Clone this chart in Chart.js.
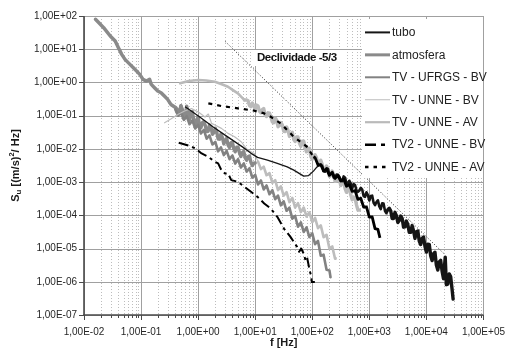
<!DOCTYPE html>
<html><head><meta charset="utf-8">
<script src="https://cdn.jsdelivr.net/npm/chart.js@4.4.1/dist/chart.umd.min.js"></script>
<style>html,body{margin:0;padding:0;background:#fff;}canvas{display:block;}</style>
</head><body>
<canvas id="c" width="516" height="357"></canvas>
<script>
// ---------- DATA ----------
const seriesNames = ['tubo','atmosfera','TV - UFRGS - BV','TV - UNNE - BV','TV - UNNE - AV','TV2 - UNNE - BV','TV2 - UNNE - AV'];
const xTickValues = [1e-2,1e-1,1e0,1e1,1e2,1e3,1e4,1e5];
const xTickLabels = ['1,00E-02','1,00E-01','1,00E+00','1,00E+01','1,00E+02','1,00E+03','1,00E+04','1,00E+05'];
const yTickValues = [1e-7,1e-6,1e-5,1e-4,1e-3,1e-2,1e-1,1e0,1e1,1e2];
const yTickLabels = ['1,00E-07','1,00E-06','1,00E-05','1,00E-04','1,00E-03','1,00E-02','1,00E-01','1,00E+00','1,00E+01','1,00E+02'];
const xTitle = 'f [Hz]';
const slopeLabel = 'Declividade -5/3';

const tuboF = [0.60,1.01,1.84,3.34,6.07,8.34,11.0,16.4,24.4,36.4,47.5,70.7,86.2,105,120,
  141,150,158,168,178,188,200,211,224,237,251,266,282,299,316,335,355,376,398,422,
  447,473,501,531,562,596,631,668,708,750,794,841,891,944,1000,1059,1122,1189,1259,1334,
  1413,1496,1585,1679,1778,1884,1995,2113,2239,2371,2512,2661,2818,2985,3162,3350,3548,3758,3981,4217,
  4467,4732,5012,5309,5623,5957,6310,6683,7079,7499,7943,8414,8913,9441,10000,10590,11220,11890,12590,13340,
  14130,14960,15850,16790,17780,18840,19950,21380,22390,23710,25120,26610,28180,29400];
const tuboS = [0.182,0.0973,0.0454,0.0226,0.0113,0.00747,0.00555,0.0046,0.00366,0.00289,0.0023,0.00152,0.00157,0.00214,0.00283,
  3.34e-3,3.00e-3,2.14e-3,2.06e-3,2.61e-3,2.51e-3,1.67e-3,1.75e-3,2.00e-3,1.38e-3,1.30e-3,1.68e-3,1.65e-3,1.43e-3,1.12e-3,1.07e-3,1.48e-3,1.36e-3,9.12e-4,9.14e-4,
  1.10e-3,9.06e-4,6.50e-4,8.78e-4,8.20e-4,5.62e-4,5.08e-4,5.58e-4,6.75e-4,5.96e-4,3.81e-4,3.61e-4,4.94e-4,4.07e-4,2.80e-4,3.80e-4,3.91e-4,2.39e-4,2.03e-4,2.51e-4,
  2.83e-4,1.86e-4,1.54e-4,2.29e-4,2.25e-4,1.35e-4,1.16e-4,1.47e-4,1.63e-4,1.37e-4,8.04e-5,8.07e-5,1.23e-4,9.69e-5,6.08e-5,6.94e-5,9.53e-5,8.15e-5,4.40e-5,4.52e-5,
  6.73e-5,5.22e-5,3.08e-5,3.08e-5,4.91e-5,3.45e-5,2.02e-5,3.21e-5,3.37e-5,1.68e-5,1.32e-5,2.01e-5,2.23e-5,1.17e-5,7.80e-6,1.35e-5,1.34e-5,6.05e-6,4.36e-6,6.97e-6,
  7.71e-6,3.17e-6,2.26e-6,3.98e-6,4.42e-6,2.09e-6,1.24e-6,5.5e-6,8.18e-7,8.5e-7,1.73e-6,1.44e-6,6.0e-7,3.0e-7];

const atmF = [0.0159,0.0221,0.0288,0.0352,0.0401,0.0458,0.0523,0.0638,0.0778,0.0949,0.108,0.124,0.141,0.151,0.172,0.196,0.224,0.256,0.292,0.333,0.407,0.464,
  0.50,0.531,0.562,0.596,0.631,0.668,0.708,0.750,0.794,0.841,0.891,0.944,1.0,1.059,1.12,1.189,1.26,1.334,1.41,1.496,
  1.58,1.679,1.78,1.884,2.0,2.113,2.24,2.371,2.51,2.661,2.82,2.985,3.16,3.350,3.55,3.758,3.98,4.217,4.47,4.732,
  5.01,5.309,5.62,5.957,6.31,6.683,7.08,7.499,7.94,8.414,8.91,9.441,10.0];
const atmS = [79.4,44.6,25,17.7,11.1,7.0,4.95,3.5,2.48,1.75,1.24,1.10,1.24,0.875,0.694,0.551,0.491,0.389,0.309,0.218,0.173,0.122,
  0.197,0.153,0.0824,0.100,0.194,0.127,0.0757,0.127,0.134,0.0678,0.0495,0.0738,0.0916,0.0498,0.0429,0.0627,0.0664,0.0502,0.0332,0.0339,
  0.0525,0.0456,0.0275,0.0308,0.0415,0.0329,0.0198,0.0196,0.0281,0.0223,0.0141,0.0179,0.0207,0.0129,0.0110,0.0152,0.0159,0.0101,0.00815,0.0112,
  0.0112,0.00759,0.00589,0.00785,0.00832,0.00537,0.00457,0.00579,0.00611,0.00392,0.00316,0.00369,0.00375];

const ufF = [0.398,0.447,0.501,0.562,0.631,0.708,0.794,0.891,1.00,1.12,1.26,1.41,1.58,1.78,2.00,2.24,2.51,2.82,3.16,3.55,3.98,4.47,5.01,5.62,6.31,7.08,7.94,8.91,
  10.0,11.2,12.6,14.1,15.8,17.8,20.0,22.4,25.1,28.2,31.6,35.5,39.8,44.7,50.1,56.2,63.1,70.8,79.4,89.1,100,112,126,141,158,178,200,209];
const ufS = [0.154,0.0998,0.123,0.0746,0.0964,0.0552,0.0713,0.0410,0.0530,0.0291,0.0372,0.0203,0.0254,0.0136,0.0162,8.43e-3,1.11e-2,6.50e-3,8.75e-3,4.91e-3,6.31e-3,3.62e-3,4.88e-3,2.76e-3,3.66e-3,2.07e-3,2.62e-3,1.37e-3,
  1.64e-3,8.49e-4,1.12e-3,6.03e-4,7.94e-4,4.31e-4,5.70e-4,3.07e-4,3.95e-4,2.00e-4,2.65e-4,1.37e-4,1.71e-4,7.94e-5,9.51e-5,4.56e-5,6.15e-5,3.15e-5,4.35e-5,2.22e-5,2.88e-5,1.35e-5,1.69e-5,6.10e-6,6.56e-6,2.29e-6,2.19e-6,1.38e-6];

const ubF = [0.258,0.332,0.457,0.579,0.766,1.01,1.32,1.51,1.72,1.97,2.56,3.34,4.36,5.68,7.40,9.66,
  11.2,12.6,14.1,15.8,17.8,20.0,22.4,25.1,28.2,31.6,35.5,39.8,44.7,50.1,56.2,63.1,70.8,79.4,89.1,100,112,126,141,158,178,200,224,251,256];
const ubS = [0.0611,0.0791,0.112,0.138,0.164,0.128,0.0908,0.112,0.0586,0.0521,0.0414,0.0293,0.0231,0.0164,0.0092,0.0073,
  4.15e-3,2.46e-3,2.91e-3,1.61e-3,1.87e-3,9.53e-4,1.14e-3,5.74e-4,7.45e-4,3.93e-4,4.98e-4,2.51e-4,3.33e-4,1.72e-4,2.33e-4,1.25e-4,1.72e-4,9.18e-5,1.23e-4,6.21e-5,8.41e-5,4.10e-5,5.00e-5,2.21e-5,2.58e-5,9.95e-6,1.16e-5,4.93e-6,5.14e-6];

const uaF = [0.485,0.68,1.01,1.39,1.97,2.53,3.34,4.07,4.98,6.49,
  7.08,7.50,7.94,8.41,8.91,9.44,10.0,10.59,11.2,11.89,12.6,13.34,14.1,14.96,15.8,16.79,17.8,18.84,20.0,21.13,
  22.4,23.71,25.1,26.61,28.2,29.85,31.6,33.50,35.5,37.58,39.8,42.17,44.7,47.32,50.1,53.09,56.2,59.57,63.1,66.83,
  70.8,74.99,79.4,84.14,89.1,94.41,100,105.9,112,118.9,126,133.4,141,149.6,158,167.9,178,188.4,200,211.3,
  224,237.1,251,266.1,282,298.5,316,335.0,355,375.8,398,421.7,447,473.2,501,530.9,562,595.7,631,673];
const uaS = [0.94,1.10,1.18,1.14,1.05,0.895,0.742,0.59,0.47,0.295,
  0.299,0.283,0.203,0.187,0.239,0.200,0.153,0.208,0.195,0.135,0.122,0.152,0.164,0.104,0.0946,0.122,0.119,0.0918,0.0649,0.0617,
  0.0849,0.0738,0.0465,0.0501,0.0622,0.0527,0.0340,0.0334,0.0455,0.0360,0.0237,0.0287,0.0318,0.0191,0.0166,0.0228,0.0228,0.0150,0.0119,0.0171,
  0.0171,0.0110,8.13e-3,0.0103,1.04e-2,5.92e-3,4.86e-3,6.24e-3,6.65e-3,5.42e-3,3.21e-3,3.18e-3,4.56e-3,3.39e-3,2.20e-3,2.25e-3,3.05e-3,2.56e-3,1.49e-3,1.60e-3,
  2.16e-3,1.66e-3,1.06e-3,1.08e-3,1.61e-3,1.29e-3,7.87e-4,9.93e-4,1.14e-3,6.38e-4,4.92e-4,6.59e-4,6.70e-4,4.06e-4,2.95e-4,3.55e-4,3.40e-4,2.06e-4,1.43e-4,1.44e-4];

const t2bF = [0.457,0.68,0.887,1.15,1.51,1.97,2.24,2.56,2.93,3.34,3.81,4.98,6.49,8.44,11.0,14.4,18.7,24.4,31.9,41.5,54.2,59,64,70.7,76,81,86.2,90,94.5,98.4,111];
const t2bS = [0.0153,0.0126,0.0104,0.0073,0.00578,0.00408,0.00366,0.0023,0.00183,0.00183,0.00115,0.00102,7.2e-4,5.1e-4,3.6e-4,2.28e-4,1.61e-4,9.0e-5,4.0e-5,2.25e-5,1.12e-5,8e-6,1.0e-5,7.1e-6,4.5e-6,5.5e-6,3.2e-6,2.2e-6,1.6e-6,9.8e-7,9.8e-7];

const t2aF = [1.51,2.56,4.98,9.66,14.4,18.7,27.9,36.4,47.5,61.7,80.6,105,
  112,126,141,158,178,200,224,251,282,316,355,398,447,501,562,631,708,794,891,1000,1122,1259,1413,1535];
const t2aS = [0.234,0.195,0.166,0.141,0.117,0.0927,0.0586,0.0369,0.0231,0.0164,0.0116,0.00578,
  5.41e-3,3.31e-3,3.34e-3,2.19e-3,2.44e-3,1.60e-3,1.92e-3,1.31e-3,1.58e-3,1.08e-3,1.23e-3,7.53e-4,8.41e-4,5.27e-4,5.57e-4,3.02e-4,3.27e-4,1.78e-4,1.80e-4,8.89e-5,8.99e-5,4.00e-5,3.78e-5,2.10e-5];

const slopeF = [3, 20000];
const slopeS = [17, 7.2e-6];

// ---------- CHART ----------
const FONT = '"Liberation Sans", Arial, Helvetica, sans-serif';
Chart.defaults.font.family = FONT;
function pts(F,S){ return F.map((f,i)=>({x:f,y:S[i]})); }
const common = {showLine:true, pointRadius:0, pointHoverRadius:0, fill:false, tension:0, borderJoinStyle:'round', borderCapStyle:'round'};
const wideFrom = (fx, w) => ctx => ctx.p0.parsed.x >= fx ? w : undefined;

const legendW = [2, 3, 2, 1, 2.2, 2.5, 2.5];
const legendDash = [[], [], [], [], [], [11,5,4,5], [3.5,5]];

const decor = {
  id: 'decor',
  beforeDraw(chart){
    const c = chart.ctx; c.save(); c.fillStyle = '#fff'; c.fillRect(0,0,chart.width,chart.height); c.restore();
  },
  beforeDatasetsDraw(chart){
    const c = chart.ctx, a = chart.chartArea, xs = chart.scales.x, ys = chart.scales.y;
    const ln = (x1,y1,x2,y2)=>{ c.beginPath(); c.moveTo(x1,y1); c.lineTo(x2,y2); c.stroke(); };
    c.save();
    c.strokeStyle = '#bdbdbd'; c.lineWidth = 1; c.setLineDash([1,2]);
    const minors = [];
    for (let d = 0; d < xTickValues.length - 1; d++) for (let k = 2; k < 10; k++) minors.push(k * xTickValues[d]);
    minors.forEach(v => { const px = Math.round(xs.getPixelForValue(v)) + 0.5; ln(px, a.top, px, a.bottom); });
    c.setLineDash([]);
    c.strokeStyle = '#a0a0a0'; c.lineWidth = 1;
    xTickValues.forEach(v => { const px = Math.round(xs.getPixelForValue(v)) + 0.5; ln(px, a.top, px, a.bottom); });
    yTickValues.forEach(v => { const py = Math.round(ys.getPixelForValue(v)) + 0.5; ln(a.left, py, a.right, py); });
    c.strokeStyle = '#4a4a4a'; c.lineWidth = 1.6;
    ln(a.left, a.top, a.left, a.bottom + 0.8);
    ln(a.left - 0.8, a.bottom, a.right, a.bottom);
    c.lineWidth = 1;
    yTickValues.forEach(v => { const py = Math.round(ys.getPixelForValue(v)) + 0.5; ln(a.left - 5, py, a.left, py); });
    xTickValues.forEach(v => { const px = Math.round(xs.getPixelForValue(v)) + 0.5; ln(px, a.bottom, px, a.bottom + 5); });
    minors.forEach(v => { const px = Math.round(xs.getPixelForValue(v)) + 0.5; ln(px, a.bottom, px, a.bottom + 3); });
    c.restore();
  },
  afterDatasetsDraw(chart){
    const c = chart.ctx, a = chart.chartArea;
    c.save();
    c.fillStyle = '#fff'; c.fillRect(252, 50, 90, 16);
    c.font = 'bold 11.5px ' + FONT; c.fillStyle = '#111'; c.textBaseline = 'middle'; c.textAlign = 'left';
    try { c.letterSpacing = '-0.45px'; } catch(e) {}
    c.fillText(slopeLabel, 257, 58);
    try { c.letterSpacing = '0px'; } catch(e) {}
    c.fillStyle = '#fff'; c.fillRect(362, 19, 121, 159);
    for (let i = 0; i < seriesNames.length; i++) {
      const ds = chart.data.datasets[i];
      const yy = 32.4 + i * 22.45;
      c.strokeStyle = ds.borderColor; c.lineWidth = legendW[i]; c.setLineDash(legendDash[i]);
      c.beginPath(); c.moveTo(365, yy); c.lineTo(390, yy); c.stroke();
      c.setLineDash([]);
      c.fillStyle = '#222'; c.font = '12px ' + FONT; c.textAlign = 'left'; c.textBaseline = 'middle';
      c.fillText(ds.label, 392, yy + 0.5);
    }
    c.font = 'bold 11px ' + FONT; c.fillStyle = '#1a1a1a'; c.textAlign = 'center'; c.textBaseline = 'middle';
    c.fillText(xTitle, (a.left + a.right) / 2, 343);
    const parts = [
      {t:'S', f:'bold 11px ', dy:0},
      {t:'u', f:'bold 8px ', dy:3},
      {t:' [(m/s)', f:'bold 11px ', dy:0},
      {t:'2', f:'bold 7.5px ', dy:-4},
      {t:'/ Hz]', f:'bold 11px ', dy:0}
    ];
    let tot = 0;
    parts.forEach(p => { c.font = p.f + FONT; p.w = c.measureText(p.t).width; tot += p.w; });
    c.translate(16, (a.top + a.bottom) / 2);
    c.rotate(-Math.PI / 2);
    c.textAlign = 'left';
    let x = -tot / 2;
    parts.forEach(p => { c.font = p.f + FONT; c.fillText(p.t, x, p.dy); x += p.w; });
    c.restore();
  }
};

new Chart(document.getElementById('c'), {
  type: 'scatter',
  data: {
    datasets: [
      Object.assign({label:seriesNames[0], data:pts(tuboF,tuboS), borderColor:'#151515', borderWidth:1.3, order:3,
        segment:{borderWidth: ctx => ctx.p0.parsed.x >= 2000 ? 3.4 : (ctx.p0.parsed.x >= 130 ? 2.6 : undefined)}}, common),
      Object.assign({label:seriesNames[1], data:pts(atmF,atmS), borderColor:'#8a8a8a', borderWidth:3.5, order:6,
        segment:{borderWidth: wideFrom(0.47, 3.4)}}, common),
      Object.assign({label:seriesNames[2], data:pts(ufF,ufS), borderColor:'#828282', borderWidth:2.6, order:5}, common),
      Object.assign({label:seriesNames[3], data:pts(ubF,ubS), borderColor:'#bdbdbd', borderWidth:1.2, order:4,
        segment:{borderWidth: wideFrom(10, 2.6)}}, common),
      Object.assign({label:seriesNames[4], data:pts(uaF,uaS), borderColor:'#bababa', borderWidth:2.6, order:7,
        segment:{borderWidth: wideFrom(6.4, 3.4)}}, common),
      Object.assign({label:seriesNames[5], data:pts(t2bF,t2bS), borderColor:'#000', borderWidth:2, borderDash:[10,4,3,4], order:2}, common, {borderCapStyle:'butt'}),
      Object.assign({label:seriesNames[6], data:pts(t2aF,t2aS), borderColor:'#000', borderWidth:2.2, borderDash:[4,5], order:1,
        segment:{borderDash: ctx => ctx.p0.parsed.x >= 105 ? [] : undefined, borderWidth: wideFrom(105, 2.8)}}, common, {borderCapStyle:'butt'}),
      Object.assign({label:'slope', data:pts(slopeF,slopeS), borderColor:'#222', borderWidth:1, borderDash:[1,2], order:0}, common, {borderCapStyle:'butt'})
    ]
  },
  options: {
    responsive: false,
    devicePixelRatio: 1,
    animation: false,
    events: [],
    layout: {padding: {top:16, right:27, bottom:0, left:0}},
    plugins: {legend:{display:false}, tooltip:{enabled:false}, title:{display:false}},
    scales: {
      x: {
        type: 'logarithmic', position: 'bottom', min: 1e-2, max: 1e5,
        grid: {display:false, drawTicks:false}, border: {display:false},
        afterBuildTicks: s => { s.ticks = xTickValues.map(v => ({value:v})); },
        afterFit: s => { s.height = 42; },
        ticks: {autoSkip:false, maxRotation:0, padding:11, color:'#262626', font:{size:10, family:FONT},
          callback: (v,i) => xTickLabels[i]}
      },
      y: {
        type: 'logarithmic', position: 'left', min: 1e-7, max: 1e2,
        grid: {display:false, drawTicks:false}, border: {display:false},
        afterBuildTicks: s => { s.ticks = yTickValues.map(v => ({value:v})); },
        afterFit: s => { s.width = 84; },
        ticks: {autoSkip:false, padding:7, color:'#262626', font:{size:10, family:FONT},
          callback: (v,i) => yTickLabels[i]}
      }
    }
  },
  plugins: [decor]
});
</script>
</body></html>
